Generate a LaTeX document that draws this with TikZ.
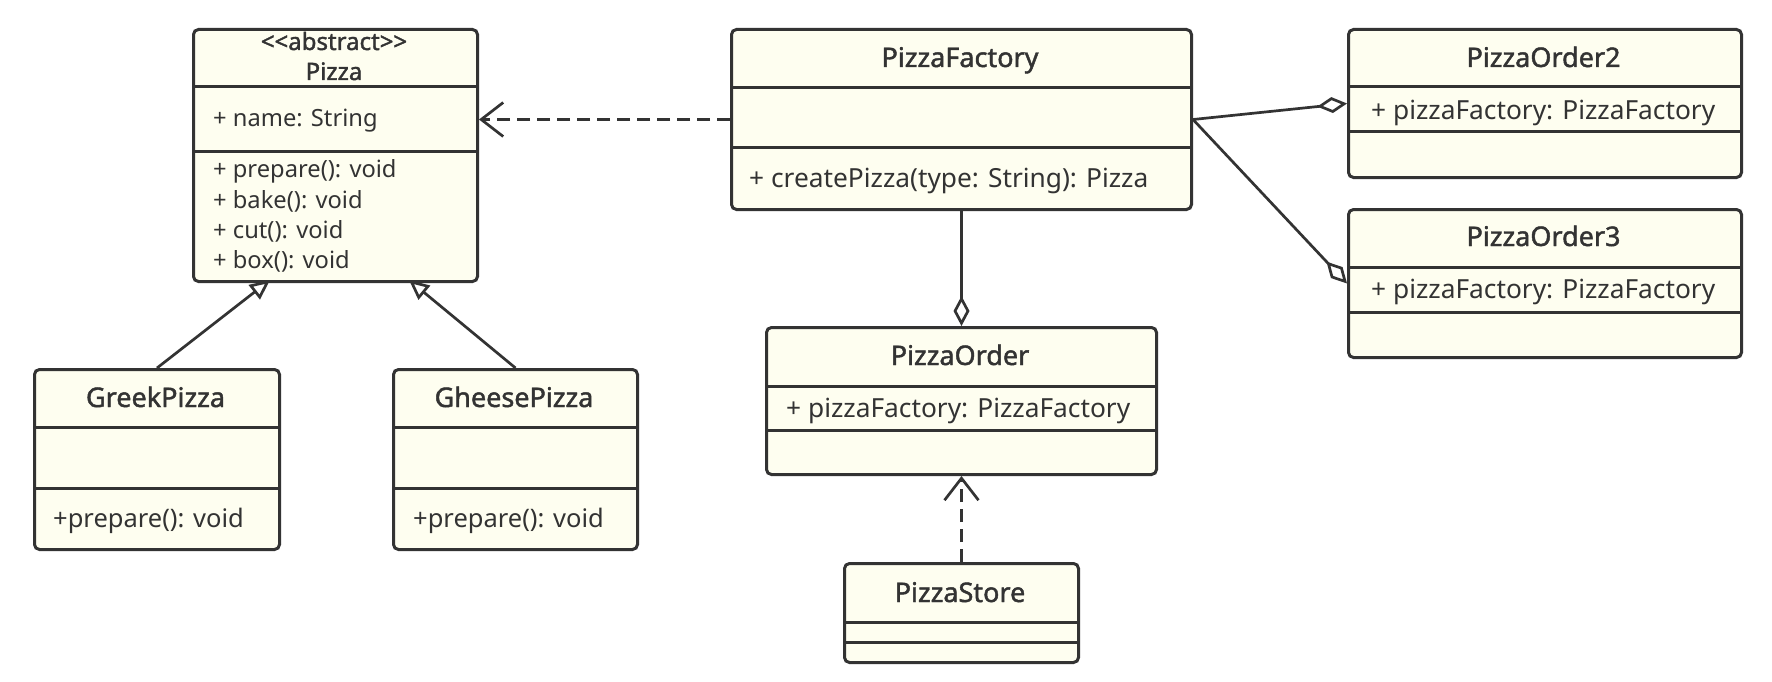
\documentclass[tikz,border=0pt]{standalone}
\usepackage{fontspec}
\setmainfont{Noto Sans}[AutoFakeBold=1.6]
\usetikzlibrary{arrows.meta}
\definecolor{umlline}{HTML}{333333}
\definecolor{umlfill}{HTML}{FEFEF0}
\begin{document}
\begin{tikzpicture}[x=1pt,y=-1pt,
    classbox/.style={draw=umlline, fill=umlfill, line width=3pt, rounded corners=5pt, inner sep=0pt, anchor=north west},
    sepline/.style={draw=umlline, line width=3pt},
    clstitle/.style={text=umlline, font=\fontsize{27}{32}\selectfont\bfseries, anchor=base, inner sep=0pt},
    member/.style={text=umlline, font=\fontsize{26.3}{31}\selectfont, anchor=base west, inner sep=0pt},
    conn/.style={draw=umlline, line width=2.7pt},
    depend/.style={conn, dash pattern=on 13pt off 7pt, -{Straight Barb[length=22pt,width=34pt]}},
    aggr/.style={conn, -{Diamond[open, length=30pt, width=16pt, fill=white]}},
    inherit/.style={conn, -{Triangle[open, length=20pt, width=18pt, fill=white]}}
  ]
  \fill[white] (0,0) rectangle (1772,682);
  \useasboundingbox (0,0) rectangle (1772,682);
  % Pizza (abstract)
  \node[classbox, minimum width=284pt, minimum height=252pt] (pizza) at (192,28) {};
  \draw[sepline] (192,87) -- (476,87);
  \draw[sepline] (192,152) -- (476,152);
  \node[clstitle, font=\fontsize{24}{28}\selectfont\bfseries] (pizzaStereo) at (334,50) {<{}<abstract>{}>};
  \node[clstitle, font=\fontsize{24}{28}\selectfont\bfseries] (pizzaName) at (334,80) {Pizza};
  \node[member, font=\fontsize{23.7}{28}\selectfont] (pizzaAttr) at (213,127) {+ name: String};
  \node[member, font=\fontsize{23.7}{28}\selectfont] (pizzaOp1) at (213,178) {+ prepare(): void};
  \node[member, font=\fontsize{23.7}{28}\selectfont] (pizzaOp2) at (213,208) {+ bake(): void};
  \node[member, font=\fontsize{23.7}{28}\selectfont] (pizzaOp3) at (213,238) {+ cut(): void};
  \node[member, font=\fontsize{23.7}{28}\selectfont] (pizzaOp4) at (213,268) {+ box(): void};
  % PizzaFactory
  \node[classbox, minimum width=460pt, minimum height=180pt] (factory) at (730,28) {};
  \draw[sepline] (730,88) -- (1190,88);
  \draw[sepline] (730,148) -- (1190,148);
  \node[clstitle] (factoryName) at (960,67) {PizzaFactory};
  \node[member] (factoryOp) at (749,187) {+ createPizza(type: String): Pizza};
  % PizzaOrder2
  \node[classbox, minimum width=393pt, minimum height=148pt] (order2) at (1347,28) {};
  \draw[sepline] (1347,87) -- (1740,87);
  \draw[sepline] (1347,132) -- (1740,132);
  \node[clstitle] (order2Name) at (1543.5,67) {PizzaOrder2};
  \node[member] (order2Attr) at (1371,120) {+ pizzaFactory: PizzaFactory};
  % PizzaOrder3
  \node[classbox, minimum width=393pt, minimum height=148pt] (order3) at (1347,208) {};
  \draw[sepline] (1347,267) -- (1740,267);
  \draw[sepline] (1347,312) -- (1740,312);
  \node[clstitle] (order3Name) at (1543.5,246) {PizzaOrder3};
  \node[member] (order3Attr) at (1371,298) {+ pizzaFactory: PizzaFactory};
  % PizzaOrder
  \node[classbox, minimum width=390pt, minimum height=147pt] (order) at (765,326) {};
  \draw[sepline] (765,386) -- (1155,386);
  \draw[sepline] (765,430) -- (1155,430);
  \node[clstitle] (orderName) at (960,365) {PizzaOrder};
  \node[member] (orderAttr) at (786,417) {+ pizzaFactory: PizzaFactory};
  % PizzaStore
  \node[classbox, minimum width=234pt, minimum height=99pt] (store) at (843,562) {};
  \draw[sepline] (843,622) -- (1077,622);
  \draw[sepline] (843,642) -- (1077,642);
  \node[clstitle] (storeName) at (960,602) {PizzaStore};
  % GreekPizza
  \node[classbox, minimum width=245pt, minimum height=180pt] (greek) at (33,368) {};
  \draw[sepline] (33,427) -- (278,427);
  \draw[sepline] (33,488) -- (278,488);
  \node[clstitle] (greekName) at (155.5,407) {GreekPizza};
  \node[member, font=\fontsize{25.5}{30}\selectfont] (greekOp) at (53,527) {+prepare(): void};
  % GheesePizza
  \node[classbox, minimum width=244pt, minimum height=180pt] (cheese) at (392,368) {};
  \draw[sepline] (392,427) -- (636,427);
  \draw[sepline] (392,488) -- (636,488);
  \node[clstitle] (cheeseName) at (514,407) {GheesePizza};
  \node[member, font=\fontsize{25.5}{30}\selectfont] (cheeseOp) at (413,527) {+prepare(): void};
  % relations
  \coordinate (pizzaL) at (270,280);
  \coordinate (pizzaR) at (409,280);
  \draw[depend] (factory.west) -- (factory.west -| pizza.east);
  \draw[aggr] (factory.south) -- (order.north);
  \draw[aggr] (factory.east) -- (order2.west);
  \draw[aggr] (factory.east) -- (order3.west);
  \draw[depend] (store.north) -- (order.south);
  \draw[inherit] (greek.north) -- (pizzaL);
  \draw[inherit] (cheese.north) -- (pizzaR);
\end{tikzpicture}
\end{document}
